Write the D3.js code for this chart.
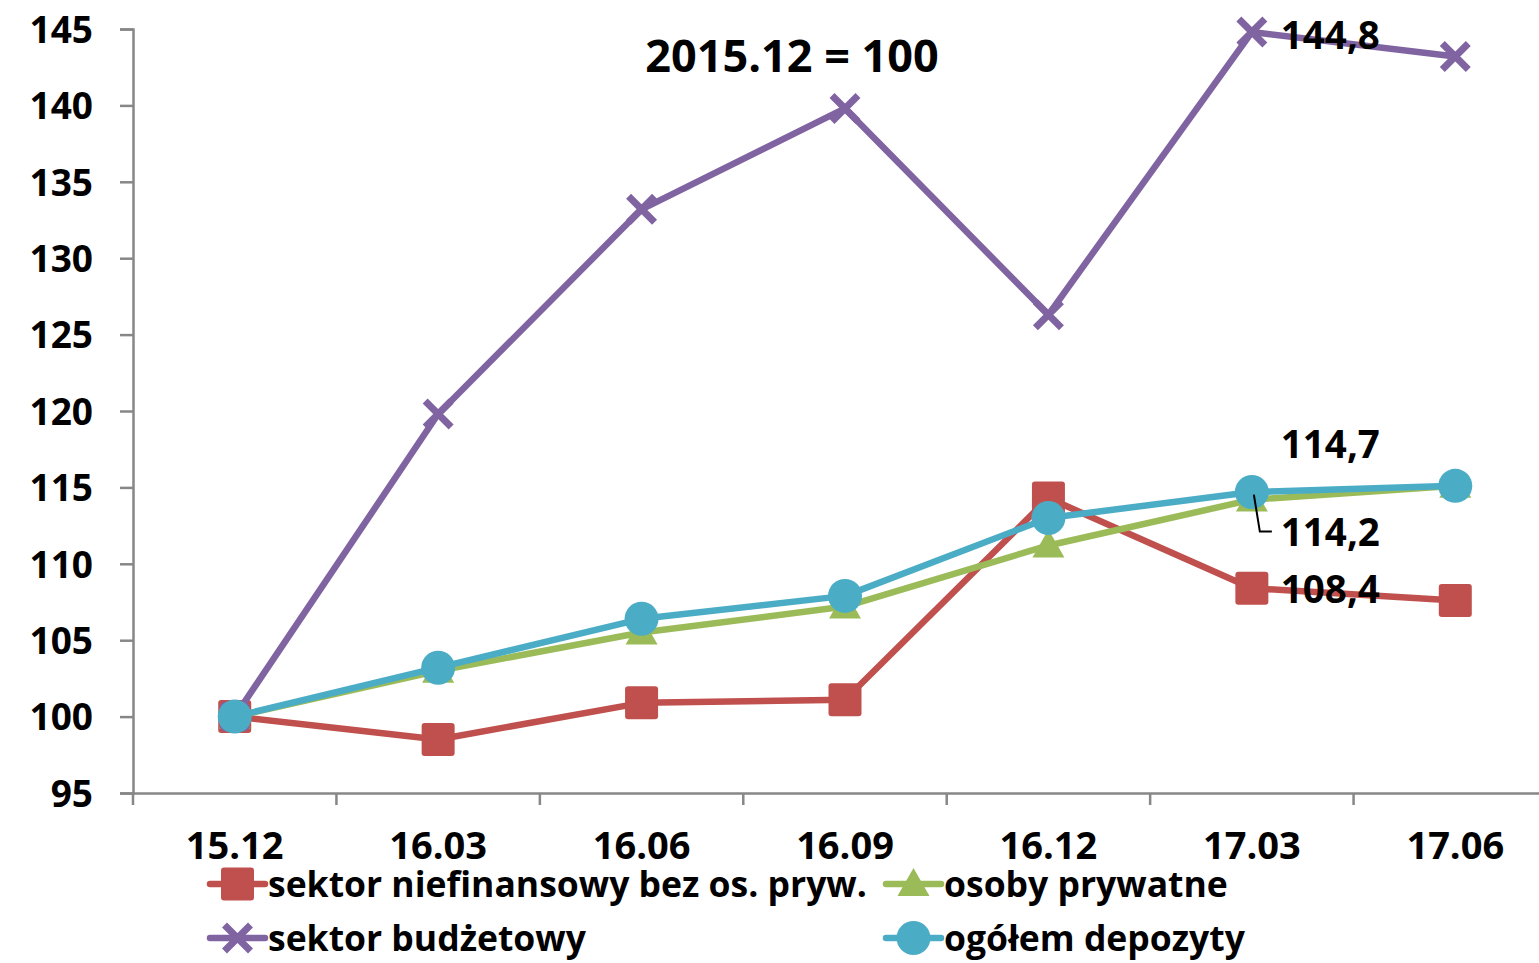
<!DOCTYPE html>
<html>
<head>
<meta charset="utf-8">
<script src="https://cdn.jsdelivr.net/npm/d3@7"></script>
<style>
  body { margin: 0; background: #fff; }
  svg { display: block; font-family: "Open Sans", sans-serif; font-weight: bold; }
</style>
</head>
<body>
<svg id="chart" width="1539" height="963"></svg>
<script>
// categories (quarters)
let periods = ["15.12", "16.03", "16.06", "16.09", "16.12", "17.03", "17.06"];
let yTicks = [95, 100, 105, 110, 115, 120, 125, 130, 135, 140, 145];

// series values, 2015.12 = 100
let niefinansowy = [100, 98.5, 100.9, 101.1, 114.3, 108.4, 107.6];
let prywatne     = [100, 103.0, 105.5, 107.2, 111.2, 114.2, 115.1];
let budzetowy    = [100, 119.8, 133.2, 139.8, 126.3, 144.8, 143.2];
let ogolem       = [100, 103.2, 106.4, 107.9, 113.0, 114.7, 115.1];

let seriesNames = ["sektor niefinansowy bez os. pryw.", "osoby prywatne", "sektor budżetowy", "ogółem depozyty"];

let chart = d3.select("#chart");

// x position scale
let x = d3.scaleBand()
    .domain(periods)
    .range([133, 1557]);

// y position scale
let y = d3.scaleLinear()
    .domain([95, 145])
    .range([793, 29]);

let series = [
    { name: seriesNames[0], values: niefinansowy, color: "#C0504D", marker: "square" },
    { name: seriesNames[1], values: prywatne, color: "#9BBB59", marker: "triangle" },
    { name: seriesNames[2], values: budzetowy, color: "#8064A2", marker: "cross" },
    { name: seriesNames[3], values: ogolem, color: "#4BACC6", marker: "circle" }
];

// y axis
let yAxisGroup = chart.append("g")
    .attr("class", "axis")
    .attr("transform", "translate(133,0)")
    .call(d3.axisLeft(y).tickValues(yTicks).tickSize(13).tickPadding(27));

// x axis
let xAxisGroup = chart.append("g")
    .attr("class", "axis")
    .attr("transform", "translate(0,793)")
    .call(d3.axisBottom(x).tickSize(0).tickPadding(39));

// category boundary ticks
xAxisGroup.selectAll("line.bound")
    .data(periods.concat(["end"]))
    .enter()
    .append("line")
    .attr("class", "bound")
    .attr("x1", function(d, i) { return x.range()[0] + i * x.step(); })
    .attr("x2", function(d, i) { return x.range()[0] + i * x.step(); })
    .attr("y1", 0)
    .attr("y2", 12);

chart.selectAll(".axis path, .axis line")
    .attr("stroke", "#878787")
    .attr("stroke-width", 2.5);
chart.selectAll(".axis text")
    .attr("fill", "#000")
    .style("font-family", "'Open Sans', sans-serif")
    .style("font-weight", "bold");
yAxisGroup.selectAll("text").attr("dy", "0.36em").style("font-size", "37px");
xAxisGroup.selectAll("text").style("font-size", "38px");

// marker drawing
function drawMarker(g, type, color) {
    if (type == "square") {
        g.append("rect")
            .attr("x", -16.5).attr("y", -16.5)
            .attr("width", 33).attr("height", 33)
            .attr("rx", 3)
            .attr("fill", color);
    } else if (type == "triangle") {
        g.append("path")
            .attr("d", "M0,-16 L16,12 L-16,12 Z")
            .attr("fill", color);
    } else if (type == "cross") {
        g.append("path")
            .attr("d", "M-13,-13 L13,13 M-13,13 L13,-13")
            .attr("stroke", color)
            .attr("stroke-width", 7)
            .attr("fill", "none");
    } else {
        g.append("circle")
            .attr("r", 17)
            .attr("fill", color);
    }
}

let line = d3.line()
    .x(function(d, i) { return x(periods[i]) + x.bandwidth() / 2; })
    .y(function(d) { return y(d); });

series.forEach(function(s) {
    chart.append("path")
        .datum(s.values)
        .attr("fill", "none")
        .attr("stroke", s.color)
        .attr("stroke-width", 6.5)
        .attr("stroke-linejoin", "round")
        .attr("d", line);

    chart.selectAll("g.m-" + s.marker)
        .data(s.values)
        .enter()
        .append("g")
        .attr("class", "m-" + s.marker)
        .attr("transform", function(d, i) {
            return "translate(" + (x(periods[i]) + x.bandwidth() / 2) + "," + y(d) + ")";
        })
        .each(function() { drawMarker(d3.select(this), s.marker, s.color); });
});

// data labels at 17.03
let cx = x("17.03") + x.bandwidth() / 2;
let labels = [
    { text: "144,8", value: budzetowy[5], dy: 3 },
    { text: "114,7", value: ogolem[5], dy: -48 },
    { text: "114,2", value: prywatne[5], dy: 33 },
    { text: "108,4", value: niefinansowy[5], dy: 1 }
];
chart.selectAll("text.dlabel")
    .data(labels)
    .enter()
    .append("text")
    .attr("class", "dlabel")
    .attr("x", cx + 29)
    .attr("y", function(d) { return y(d.value) + d.dy; })
    .attr("dy", "0.36em")
    .style("font-size", "38.5px")
    .text(function(d) { return d.text; });

// leader line for 114,2
chart.append("path")
    .attr("d", "M" + (cx + 2) + "," + (y(prywatne[5]) - 5) +
        " L" + (cx + 8) + "," + (y(prywatne[5]) + 32) +
        " L" + (cx + 20) + "," + (y(prywatne[5]) + 32))
    .attr("fill", "none")
    .attr("stroke", "#000")
    .attr("stroke-width", 2);

// title
chart.append("text")
    .attr("x", 792)
    .attr("y", 72)
    .attr("text-anchor", "middle")
    .style("font-size", "45px")
    .text("2015.12 = 100");

// legend
let legendPos = [
    { x: 210, y: 884 },
    { x: 886, y: 884 },
    { x: 210, y: 938 },
    { x: 886, y: 938 }
];
let legend = chart.selectAll("g.legend")
    .data(series)
    .enter()
    .append("g")
    .attr("class", "legend")
    .attr("transform", function(d, i) { return "translate(" + legendPos[i].x + "," + legendPos[i].y + ")"; });

legend.append("line")
    .attr("x1", 0).attr("x2", 55)
    .attr("stroke", function(d) { return d.color; })
    .attr("stroke-width", 6.5)
    .attr("stroke-linecap", "round");

legend.append("g")
    .attr("transform", "translate(27.5,0)")
    .each(function(d) { drawMarker(d3.select(this), d.marker, d.color); });

legend.append("text")
    .attr("x", 58)
    .attr("dy", "0.36em")
    .style("font-size", "35.5px")
    .text(function(d) { return d.name; });
</script>
</body>
</html>
